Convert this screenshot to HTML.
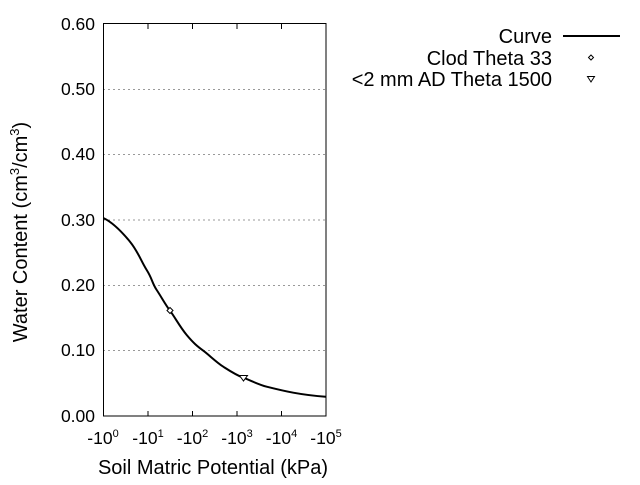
<!DOCTYPE html>
<html><head><style>body{margin:0;background:#fff}</style></head><body>
<svg width="640" height="480" xmlns="http://www.w3.org/2000/svg" font-family="Liberation Sans, sans-serif">
<rect width="640" height="480" fill="#fff"/>
<g stroke="#999" stroke-dasharray="2,3" stroke-width="1">
<line x1="103" y1="89.5" x2="326" y2="89.5"/>
<line x1="103" y1="154.5" x2="326" y2="154.5"/>
<line x1="103" y1="220" x2="326" y2="220"/>
<line x1="103" y1="285.5" x2="326" y2="285.5"/>
<line x1="103" y1="350.5" x2="326" y2="350.5"/>
</g>
<rect x="103.5" y="23.5" width="222.5" height="392.5" fill="none" stroke="#000" stroke-width="1"/>
<g stroke="#000" stroke-width="1">
<line x1="148" y1="24" x2="148" y2="29"/><line x1="192.5" y1="24" x2="192.5" y2="29"/><line x1="237" y1="24" x2="237" y2="29"/><line x1="281.5" y1="24" x2="281.5" y2="29"/>
<line x1="148" y1="416" x2="148" y2="411"/><line x1="192.5" y1="416" x2="192.5" y2="411"/><line x1="237" y1="416" x2="237" y2="411"/><line x1="281.5" y1="416" x2="281.5" y2="411"/>
</g>
<g font-size="17.5" text-anchor="end" fill="#000">
<text x="95" y="30">0.60</text><text x="95" y="95">0.50</text><text x="95" y="160">0.40</text>
<text x="95" y="226">0.30</text><text x="95" y="291">0.20</text><text x="95" y="356">0.10</text><text x="95" y="422">0.00</text>
</g>
<g font-size="17.5" text-anchor="middle" fill="#000">
<text x="103" y="444">-10<tspan font-size="11" dy="-7">0</tspan></text>
<text x="148" y="444">-10<tspan font-size="11" dy="-7">1</tspan></text>
<text x="192.5" y="444">-10<tspan font-size="11" dy="-7">2</tspan></text>
<text x="237" y="444">-10<tspan font-size="11" dy="-7">3</tspan></text>
<text x="281.5" y="444">-10<tspan font-size="11" dy="-7">4</tspan></text>
<text x="326" y="444">-10<tspan font-size="11" dy="-7">5</tspan></text>
</g>
<text x="213" y="474" font-size="20" text-anchor="middle">Soil Matric Potential (kPa)</text>
<text transform="translate(27,232) rotate(-90)" font-size="20" text-anchor="middle">Water Content (cm<tspan font-size="13" dy="-8">3</tspan><tspan dy="8">/cm</tspan><tspan font-size="13" dy="-8">3</tspan><tspan dy="8">)</tspan></text>
<path d="M103.3,218 C112,222 122,232 130,241.7 S141,261 146.7,270 S152,283 156.7,290 S165,304 170,310.7 S180,327 186.7,335 S197,346 203.3,350.7 S216,362 223.3,366.7 S236,375 243.3,377.7 S258,384.5 266.7,386.7 S284,391 293.3,392.7 S315,396 325.7,396.7" fill="none" stroke="#000" stroke-width="2"/>
<path d="M170,307.5 L173,310.5 L170,313.5 L167,310.5 Z" fill="#fff" stroke="#000"/>
<path d="M239.5,375.5 L247.5,375.5 L243.5,381 Z" fill="#fff" stroke="#000"/>
<g font-size="20" text-anchor="end">
<text x="552" y="43">Curve</text>
<text x="552" y="65">Clod Theta 33</text>
<text x="552" y="86">&lt;2 mm AD Theta 1500</text>
</g>
<line x1="563" y1="36" x2="620" y2="36" stroke="#000" stroke-width="2"/>
<path d="M591,55 L593.5,57.5 L591,60 L588.5,57.5 Z" fill="#fff" stroke="#000"/>
<path d="M587.5,76.5 L594.5,76.5 L591,82 Z" fill="#fff" stroke="#000"/>
</svg>
</body></html>
